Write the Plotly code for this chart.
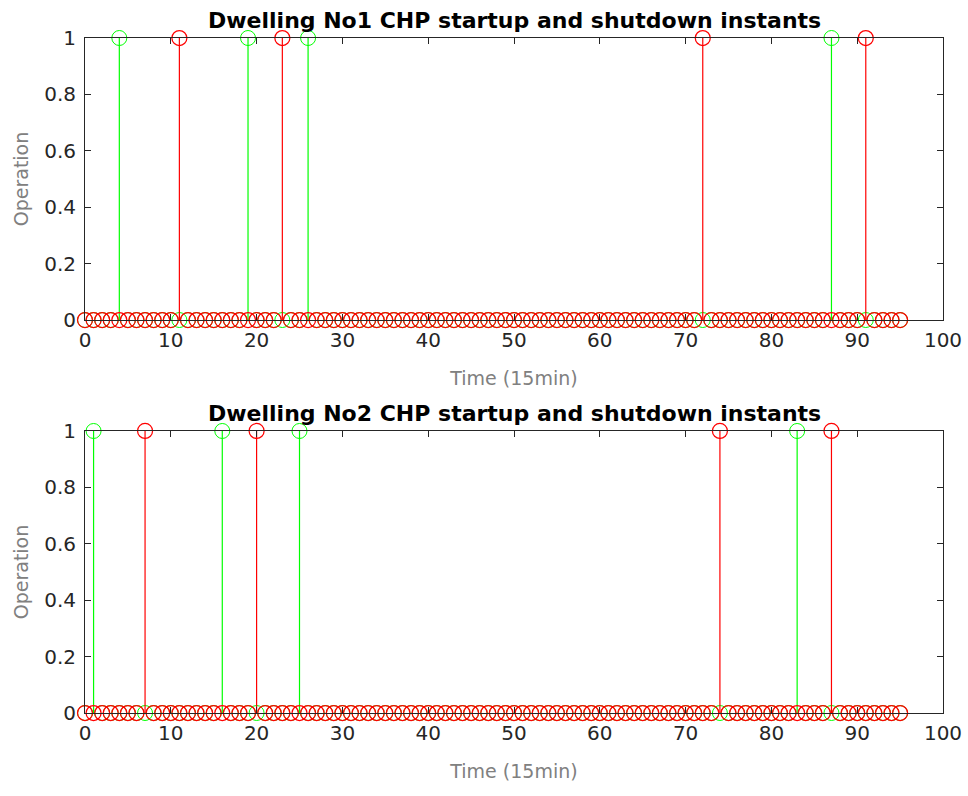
import plotly.graph_objects as go

# Time steps (15-minute intervals over one day)
time_steps = list(range(96))

# Startup / shutdown instants for each dwelling
dwelling1_startups = [4, 19, 26, 87]
dwelling1_shutdowns = [11, 23, 72, 91]
dwelling2_startups = [1, 16, 25, 83]
dwelling2_shutdowns = [7, 20, 74, 87]

titles = ["Dwelling No1 CHP startup and shutdown instants",
          "Dwelling No2 CHP startup and shutdown instants"]
x_ticks = list(range(0, 101, 10))
y_ticks = [0, 0.2, 0.4, 0.6, 0.8, 1]
y_tick_text = ["0", "0.2", "0.4", "0.6", "0.8", "1"]

GREEN = "#00ff00"
RED = "#ff0000"
AXIS_COLOR = "#262626"


def flags(instants):
    return [1 if t in instants else 0 for t in time_steps]


def stem_trace(values, color, xaxis, yaxis, ring_width):
    xs, ys = [], []
    for t, v in zip(time_steps, values):
        xs += [t, t, None]
        ys += [0, v, None]
    stems = go.Scatter(x=xs, y=ys, mode="lines",
                       line=dict(color=color, width=1.2),
                       xaxis=xaxis, yaxis=yaxis, hoverinfo="skip",
                       showlegend=False, cliponaxis=False)
    heads = go.Scatter(x=time_steps, y=values, mode="markers",
                       marker=dict(symbol="circle-open", size=15,
                                   color=color, line=dict(width=ring_width)),
                       xaxis=xaxis, yaxis=yaxis, showlegend=False,
                       cliponaxis=False)
    return [stems, heads]


fig = go.Figure()
panels = [(dwelling1_startups, dwelling1_shutdowns, "x", "y"),
          (dwelling2_startups, dwelling2_shutdowns, "x2", "y2")]
for starts, stops, xa, ya in panels:
    # startups first, shutdowns drawn on top
    for tr in stem_trace(flags(starts), GREEN, xa, ya, 1.0):
        fig.add_trace(tr)
    for tr in stem_trace(flags(stops), RED, xa, ya, 1.25):
        fig.add_trace(tr)

top_domain = [0.5822, 1.0]
bottom_domain = [0.0, 0.4178]

tick_font = dict(family="DejaVu Sans, sans-serif", size=20, color=AXIS_COLOR)
label_font = dict(family="DejaVu Sans, sans-serif", size=19, color="#808080")
title_font = dict(family="DejaVu Sans, sans-serif", size=22, color="black")

common_x = dict(range=[0, 100], tickmode="array", tickvals=x_ticks,
                ticks="inside", ticklen=6, tickcolor=AXIS_COLOR, tickwidth=1,
                showline=True, linecolor=AXIS_COLOR, linewidth=1, mirror="ticks",
                showgrid=False, zeroline=False, tickfont=tick_font,
                ticklabelstandoff=2, automargin=False,
                title=dict(text="Time (15min)", font=label_font, standoff=20))
common_y = dict(range=[0, 1], tickmode="array", tickvals=y_ticks,
                ticktext=y_tick_text,
                ticks="inside", ticklen=6, tickcolor=AXIS_COLOR, tickwidth=1,
                showline=True, linecolor=AXIS_COLOR, linewidth=1, mirror="ticks",
                showgrid=False, zeroline=False, tickfont=tick_font,
                ticklabelstandoff=4, automargin=False,
                title=dict(text="Operation", font=label_font, standoff=10))

fig.update_layout(
    width=968, height=796,
    margin=dict(l=85, r=25, t=38, b=83),
    paper_bgcolor="white", plot_bgcolor="white",
    xaxis=dict(common_x, domain=[0, 1], anchor="y"),
    yaxis=dict(common_y, domain=top_domain, anchor="x"),
    xaxis2=dict(common_x, domain=[0, 1], anchor="y2"),
    yaxis2=dict(common_y, domain=bottom_domain, anchor="x2"),
    annotations=[
        dict(text="<b>%s</b>" % titles[0], x=0.5, y=top_domain[1], xref="paper",
             yref="paper", xanchor="center", yanchor="bottom", yshift=3,
             showarrow=False, font=title_font),
        dict(text="<b>%s</b>" % titles[1], x=0.5, y=bottom_domain[1], xref="paper",
             yref="paper", xanchor="center", yanchor="bottom", yshift=3,
             showarrow=False, font=title_font),
    ],
)

fig.write_html("out.html")
